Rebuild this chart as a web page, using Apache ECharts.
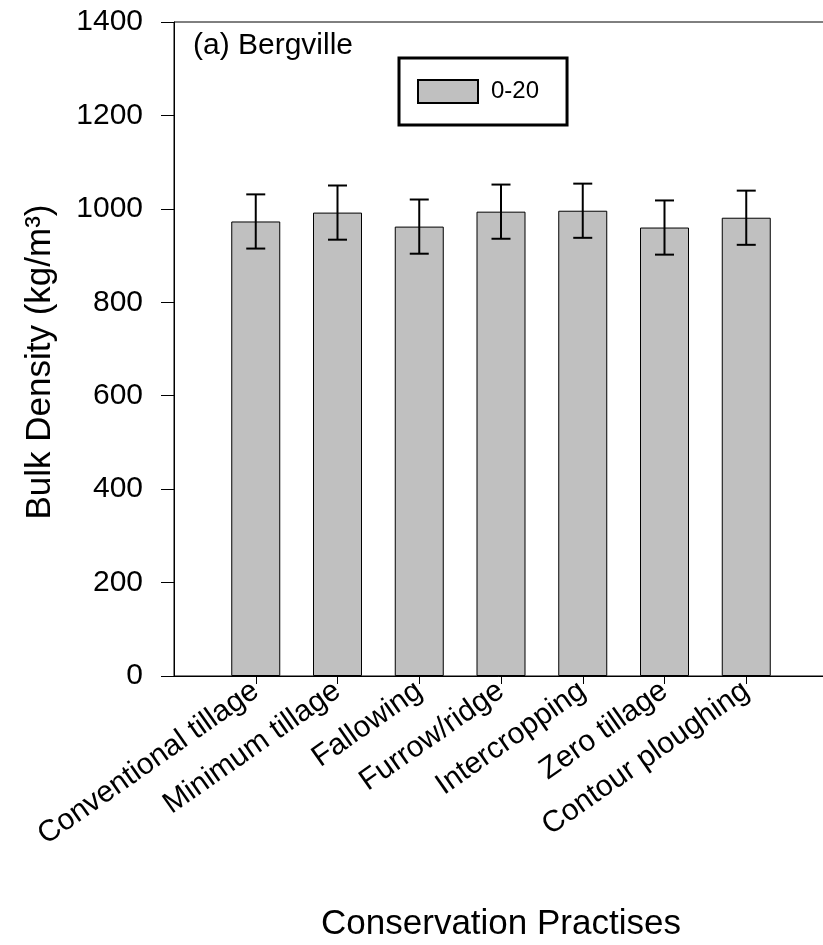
<!DOCTYPE html>
<html>
<head>
<meta charset="utf-8">
<script src="https://cdn.jsdelivr.net/npm/echarts@6/dist/echarts.min.js"></script>
<style>
  html, body { margin: 0; padding: 0; background: #fff; }
  #chart { width: 823px; height: 945px; }
</style>
</head>
<body>
<div id="chart"></div>
<script>
// Bulk density (kg/m3) at 0-20 cm depth for each conservation practice, Bergville
const practices = ['Conventional tillage', 'Minimum tillage', 'Fallowing', 'Furrow/ridge', 'Intercropping', 'Zero tillage', 'Contour ploughing'];
const bulkDensity = [973, 992, 962, 994, 996, 960, 981];
const errorBars = [58, 58, 58, 58, 58, 58, 58];
const depthLabel = '0-20';
const yMin = 0, yMax = 1400, yStep = 200;

// Empty slots on both ends keep the bars off the frame edges
const axisCats = [''].concat(practices, ['']);
const barData = [null].concat(bulkDensity, [null]);
const errData = practices.map((p, i) => [i + 1, bulkDensity[i], errorBars[i]]);

const FONT = 'Liberation Sans, Arial, sans-serif';
const chart = echarts.init(document.getElementById('chart'), null, { renderer: 'canvas' });

chart.setOption({
  animation: false,
  backgroundColor: '#fff',
  grid: {
    left: 174, top: 22, bottom: 269, width: 654,
    outerBoundsMode: 'none', containLabel: false,
    show: true, borderColor: '#000', borderWidth: 1, backgroundColor: 'transparent'
  },
  legend: {
    left: 399, top: 58,
    padding: [21, 28, 21, 18],
    borderColor: '#000', borderWidth: 3,
    itemWidth: 60, itemHeight: 23,
    textStyle: { fontFamily: FONT, fontSize: 24, color: '#000', padding: [0, 0, 0, 8] },
    data: [{ name: depthLabel, icon: 'rect' }]
  },
  xAxis: {
    type: 'category',
    data: axisCats,
    boundaryGap: false,
    axisLine: { lineStyle: { color: '#000', width: 1 } },
    axisTick: {
      length: 8,
      interval: (idx) => idx > 0 && idx < axisCats.length - 1,
      lineStyle: { color: '#000', width: 1 }
    },
    axisLabel: {
      interval: 0, rotate: 35, margin: 12,
      fontFamily: FONT, fontSize: 30, color: '#000'
    },
    splitLine: { show: false }
  },
  yAxis: {
    type: 'value',
    min: yMin, max: yMax, interval: yStep,
    name: 'Bulk Density (kg/m³)',
    nameLocation: 'middle', nameGap: 116,
    nameTextStyle: { fontFamily: FONT, fontSize: 35, color: '#000', padding: [0, 26, 0, 0] },
    axisLine: { show: true, lineStyle: { color: '#000', width: 1 } },
    axisTick: { show: true, length: 13, lineStyle: { color: '#000', width: 1 } },
    axisLabel: {
      margin: 31, fontFamily: FONT, fontSize: 30, color: '#000',
      formatter: (v) => String(v)
    },
    splitLine: { show: false }
  },
  graphic: [
    {
      type: 'text', left: 193, top: 31,
      style: { text: '(a) Bergville', font: '30px ' + FONT, fill: '#000' }
    },
    {
      type: 'text', x: 501, y: 924,
      style: {
        text: 'Conservation Practises', font: '35px ' + FONT, fill: '#000',
        textAlign: 'center', textVerticalAlign: 'middle'
      }
    }
  ],
  series: [
    {
      name: depthLabel,
      type: 'bar',
      data: barData,
      barWidth: 49,
      itemStyle: { color: '#c0c0c0', borderColor: '#000', borderWidth: 1 }
    },
    {
      name: 'error',
      type: 'custom',
      data: errData,
      z: 10,
      renderItem: function (params, api) {
        const x = api.value(0);
        const v = api.value(1);
        const e = api.value(2);
        const hi = api.coord([x, v + e]);
        const lo = api.coord([x, v - e]);
        const cap = 9.5;
        const st = { stroke: '#000', lineWidth: 2 };
        return {
          type: 'group',
          children: [
            { type: 'line', shape: { x1: hi[0], y1: hi[1], x2: lo[0], y2: lo[1] }, style: st },
            { type: 'line', shape: { x1: hi[0] - cap, y1: hi[1], x2: hi[0] + cap, y2: hi[1] }, style: st },
            { type: 'line', shape: { x1: lo[0] - cap, y1: lo[1], x2: lo[0] + cap, y2: lo[1] }, style: st }
          ]
        };
      }
    }
  ]
});
</script>
</body>
</html>
